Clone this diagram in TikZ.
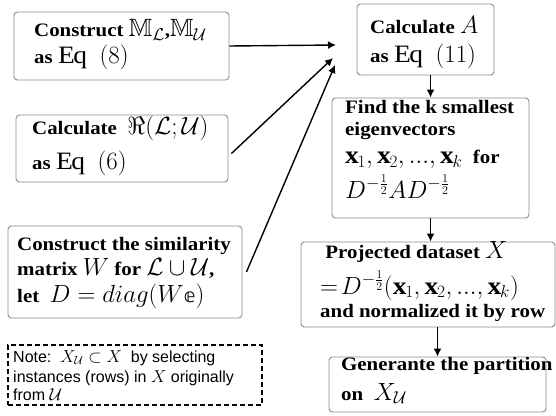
\documentclass[tikz,border=0pt]{standalone}
\usepackage{amssymb}
\usepackage{fontspec}
\setmainfont[FakeStretch=1.1]{Liberation Serif}
\newfontfamily\notefont{Liberation Sans}
\newfontfamily\dsfont{DejaVu Sans}
\newcommand{\dse}{\mbox{\dsfont\mdseries 𝕖}}
\newcommand{\eqref}[1]{\mathrm{Eq}\;\;(#1)}
\DeclareMathSizes{19}{25}{18}{13}
\DeclareMathSizes{16}{19}{13}{10}
\usepackage{tikz}
\usetikzlibrary{arrows.meta}
\definecolor{frame}{HTML}{8C8C8C}

\begin{document}
\begin{tikzpicture}[x=1pt,y=-1pt,
  font=\fontsize{19}{22}\selectfont\bfseries,
  stepbox/.style={draw=frame,line width=0.9pt,rounded corners=3.5pt,fill=white,
                  inner sep=0pt},
  steptext/.style={align=left,inner sep=0pt,anchor=base west},
  note/.style={draw=black,line width=1.3pt,dash pattern=on 5pt off 3pt,inner sep=0pt},
  notetext/.style={steptext,font=\notefont\fontsize{16}{19}\selectfont},
  arr/.style={draw=black,line width=1.4pt,-{Latex[length=8pt,width=8pt]}}]
\useasboundingbox (0,0) rectangle (556,415);

% left column (text nodes sit on the baseline of their last line)
\node[stepbox,minimum width=215,minimum height=68] (cons) at (121.5,46) {};
\node[steptext] (cons-t) at (34,63)
  {Construct $\mathbb{M}_{\mathcal{L}}$,$\mathbb{M}_{\mathcal{U}}$\\[3pt]
   as $\eqref{8}$};
\node[stepbox,minimum width=212,minimum height=67] (calc) at (122,148.5) {};
\node[steptext] (calc-t) at (32,169)
  {Calculate\ \ $\Re(\mathcal{L};\mathcal{U})$\\[9pt]
   as $\eqref{6}$};
\node[stepbox,minimum width=234,minimum height=92] (simi) at (125,272) {};
\node[steptext] (simi-t) at (17,302)
  {Construct the similarity\\[3pt]
   matrix\ $W$\ for\ $\mathcal{L}\cup\mathcal{U}$,\\[5pt]
   let\ \ $D=diag(W\dse)$};
\node[note,minimum width=254,minimum height=60] (remark) at (135,375) {};
\node[notetext] (remark-t) at (13,400)
  {Note:\ \ $X_{\mathcal{U}}\subset X$\ \ by selecting\\[1pt]
   instances (rows) in $X$\ originally\\[-1pt]
   from\ $\mathcal{U}$};

% right column
\node[stepbox,minimum width=137,minimum height=71] (adj) at (425.5,39.5) {};
\node[steptext] (adj-t) at (370,62)
  {Calculate $A$\\[7pt]
   as $\eqref{11}$};
\node[stepbox,minimum width=197,minimum height=120] (eig) at (430.5,158) {};
\node[steptext] (eig-t) at (345,198)
  {Find the k smallest\\
   eigenvectors\\[6pt]
   $\mathbf{x}_1,\mathbf{x}_2,...,\mathbf{x}_k$\ \ for\\[5pt]
   $D^{-\frac{1}{2}}AD^{-\frac{1}{2}}$};
\node[stepbox,minimum width=254,minimum height=85] (proj) at (428,284.5) {};
\node[steptext] (proj-t) at (320,317)
  {\ Projected dataset $X$\\[7pt]
   $=\!D^{-\frac{1}{2}}(\mathbf{x}_1,\mathbf{x}_2,...,\mathbf{x}_k)$\\[1pt]
   and normalized it by row};
\node[stepbox,minimum width=217,minimum height=55] (part) at (437.5,384.5) {};
\node[steptext] (part-t) at (341,400)
  {Generante the partition\\[8pt]
   on\ \ $X_{\mathcal{U}}$};

\coordinate (tip1) at (336,45);
\coordinate (tip2) at (333,58);
\coordinate (tip3) at (335,65);
\draw[arr] (cons.east) -- (tip1);
\draw[arr] ([yshift=-5pt]calc.east) ++(3,0) -- (tip2);
\draw[arr] (simi.east) ++(4,0) -- (tip3);

\draw[arr] (eig.north |- adj.south) -- (eig.north);
\draw[arr] (eig.south) -- (eig.south |- proj.north);
\draw[arr] (part.north |- proj.south) -- (part.north);
\end{tikzpicture}
\end{document}
